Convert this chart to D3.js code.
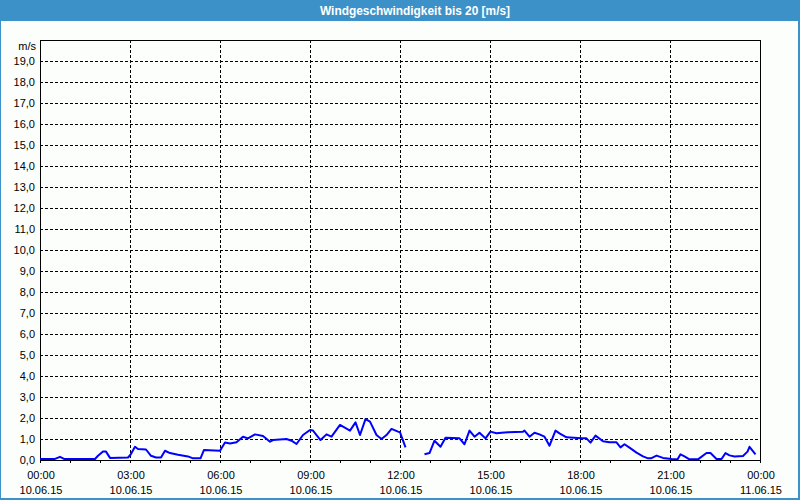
<!DOCTYPE html>
<html>
<head>
<meta charset="utf-8">
<script src="https://cdn.jsdelivr.net/npm/d3@7"></script>
<style>
  html, body { margin: 0; padding: 0; background: #fff; }
  svg { display: block; }
  text { font-family: "Liberation Sans", Arial, sans-serif; }
</style>
</head>
<body>
<svg id="chart" width="800" height="500"></svg>
<script>
// ---- data ----
const chartTitle = "Windgeschwindigkeit bis 20 [m/s]";
const yUnitLabel = "m/s";
const startDate = "2015-06-10 00:00";
const endDate = "2015-06-11 00:00";
const yTickValues = [0,1,2,3,4,5,6,7,8,9,10,11,12,13,14,15,16,17,18,19];
const xTickTimes = ["2015-06-10 00:00","2015-06-10 03:00","2015-06-10 06:00","2015-06-10 09:00","2015-06-10 12:00","2015-06-10 15:00","2015-06-10 18:00","2015-06-10 21:00","2015-06-11 00:00"];
const xTickTimeLabels = ["00:00","03:00","06:00","09:00","12:00","15:00","18:00","21:00","00:00"];
const xTickDateLabels = ["10.06.15","10.06.15","10.06.15","10.06.15","10.06.15","10.06.15","10.06.15","10.06.15","11.06.15"];
// minutes after 10.06.15 00:00
const sampleMinutes = [0,30,40,48,110,116,126,132,140,176,181,190,196,212,222,232,242,250,260,276,296,306,321,328,360,370,380,393,406,416,430,446,460,466,493,503,513,526,540,546,561,573,583,600,620,631,640,651,660,673,683,693,703,716,720,731,
  750,
  769,779,789,801,811,839,849,859,869,879,891,901,913,923,936,966,969,979,989,999,1009,1019,1031,1039,1053,1083,1093,1101,1111,1126,1139,1153,1161,1169,1179,1193,1206,1216,1222,1233,1246,1263,1275,1281,1289,1299,1316,1333,1341,1353,1363,1371,1379,1389,1406,1415,1419,1431];
const windSpeed = [0.05,0.05,0.15,0.05,0.05,0.2,0.4,0.4,0.1,0.12,0.25,0.63,0.52,0.5,0.2,0.12,0.12,0.44,0.33,0.25,0.17,0.08,0.08,0.48,0.44,0.83,0.79,0.84,1.11,1.03,1.22,1.14,0.87,0.95,1.0,0.92,0.76,1.19,1.43,1.4,0.95,1.22,1.11,1.67,1.4,1.79,1.19,1.95,1.83,1.19,1.0,1.19,1.48,1.35,1.32,0.6,
  null,
  0.27,0.33,0.92,0.63,1.06,1.03,0.75,1.4,1.11,1.3,1.03,1.35,1.27,1.3,1.32,1.35,1.4,1.11,1.3,1.22,1.11,0.68,1.4,1.27,1.08,1.03,1.03,0.83,1.16,0.89,0.84,0.84,0.6,0.75,0.59,0.35,0.17,0.08,0.08,0.21,0.1,0.05,0.03,0.27,0.17,0.03,0.03,0.33,0.33,0.05,0.05,0.33,0.22,0.17,0.19,0.4,0.63,0.27];

// ---- drawing ----
const parse = d3.timeParse("%Y-%m-%d %H:%M");
const t0 = parse(startDate), t1 = parse(endDate);
const svg = d3.select("#chart");
const W = 800, H = 500;
const M = {left: 40, right: 760, top: 40, bottom: 460};

svg.append("rect").attr("x",0).attr("y",0).attr("width",W).attr("height",H).attr("fill","#fbfefb");
// title bar
svg.append("rect").attr("x",0).attr("y",0).attr("width",W).attr("height",21).attr("fill","#3c91c8");
svg.append("text").attr("x",415).attr("y",15).attr("text-anchor","middle")
  .attr("fill","#fff").attr("font-size",13).attr("font-weight","bold")
  .attr("textLength",190).attr("lengthAdjust","spacingAndGlyphs")
  .text(chartTitle);
// outer border
svg.append("rect").attr("x",0).attr("y",21).attr("width",1).attr("height",H-21).attr("fill","#3c91c8");
svg.append("rect").attr("x",W-2).attr("y",21).attr("width",2).attr("height",H-21).attr("fill","#3c91c8");
svg.append("rect").attr("x",0).attr("y",H-2).attr("width",W).attr("height",2).attr("fill","#3c91c8");

const x = d3.scaleTime().domain([t0, t1]).range([M.left, M.right]);
const y = d3.scaleLinear().domain([0, 20]).range([M.bottom, M.top]);

const g = svg.append("g").attr("shape-rendering","crispEdges");
// horizontal grid
g.selectAll(".hg").data(yTickValues.filter(v => v > 0)).enter().append("line")
  .attr("x1", M.left).attr("x2", M.right)
  .attr("y1", d => Math.round(y(d)) + 0.5).attr("y2", d => Math.round(y(d)) + 0.5)
  .attr("stroke","#000").attr("stroke-dasharray","3,2");
// vertical grid
const xTicks = xTickTimes.map(parse);
g.selectAll(".vg").data(xTicks.slice(1, -1)).enter().append("line")
  .attr("x1", d => Math.round(x(d)) + 0.5).attr("x2", d => Math.round(x(d)) + 0.5)
  .attr("y1", M.top).attr("y2", M.bottom)
  .attr("stroke","#000").attr("stroke-dasharray","3,2");
// hourly ticks
const hourTicks = d3.timeHour.range(t0, d3.timeHour.offset(t1, 1));
g.selectAll(".ht").data(hourTicks).enter().append("line")
  .attr("x1", d => Math.round(x(d)) + 0.5).attr("x2", d => Math.round(x(d)) + 0.5)
  .attr("y1", M.bottom).attr("y2", M.bottom + 3)
  .attr("stroke","#000");
// frame
g.append("line").attr("x1",M.left).attr("x2",M.right+1).attr("y1",M.top+0.5).attr("y2",M.top+0.5).attr("stroke","#000");
g.append("line").attr("x1",M.right+0.5).attr("x2",M.right+0.5).attr("y1",M.top).attr("y2",M.bottom+1).attr("stroke","#000");
g.append("line").attr("x1",M.left+0.5).attr("x2",M.left+0.5).attr("y1",M.top).attr("y2",M.bottom+1).attr("stroke","#000");
g.append("line").attr("x1",M.left).attr("x2",M.right+1).attr("y1",M.bottom+0.5).attr("y2",M.bottom+0.5).attr("stroke","#000");

// y labels
svg.selectAll(".yl").data(yTickValues).enter().append("text")
  .attr("x", 35).attr("y", d => y(d) + 4).attr("text-anchor","end")
  .attr("font-size",11).attr("fill","#000")
  .text(d => d3.format(".1f")(d).replace(".", ","));
svg.append("text").attr("x",36).attr("y",50).attr("text-anchor","end")
  .attr("font-size",11).attr("fill","#000").text(yUnitLabel);

// x labels
svg.selectAll(".xl1").data(xTicks).enter().append("text")
  .attr("x", d => x(d) + 1).attr("y", 479).attr("text-anchor","middle")
  .attr("font-size",11).attr("fill","#000")
  .text((d,i) => xTickTimeLabels[i]);
svg.selectAll(".xl2").data(xTicks).enter().append("text")
  .attr("x", d => x(d) + 1).attr("y", 494).attr("text-anchor","middle")
  .attr("font-size",11).attr("fill","#000")
  .text((d,i) => xTickDateLabels[i]);

// data line
const pts = sampleMinutes.map((m, i) => ({t: d3.timeMinute.offset(t0, m), v: windSpeed[i]}));
const line = d3.line().defined(d => d.v !== null).x(d => x(d.t)).y(d => y(d.v));
svg.append("path").datum(pts).attr("d", line)
  .attr("fill","none").attr("stroke","#0000ff").attr("stroke-width",2).attr("stroke-linejoin","round");
</script>
</body>
</html>
